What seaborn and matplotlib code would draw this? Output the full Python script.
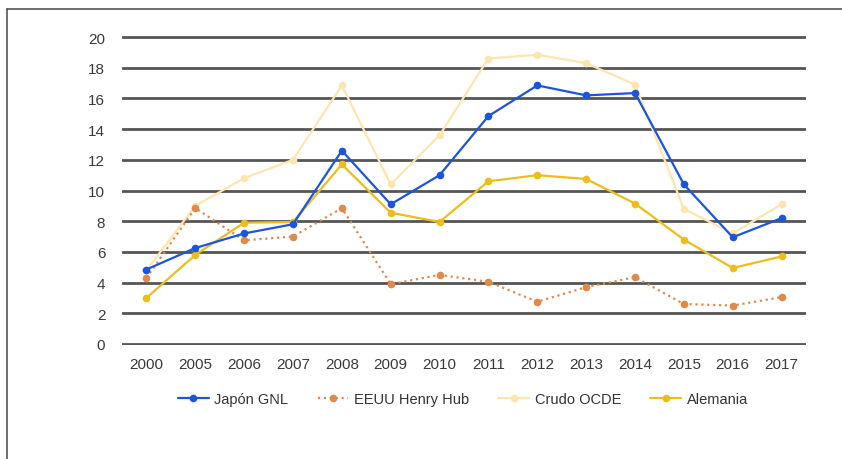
import matplotlib
matplotlib.use("Agg")
import matplotlib.pyplot as plt
from matplotlib.lines import Line2D
import seaborn as sns
import pandas as pd

years = ["2000", "2005", "2006", "2007", "2008", "2009", "2010",
         "2011", "2012", "2013", "2014", "2015", "2016", "2017"]
japon_gnl = [4.85, 6.25, 7.2, 7.8, 12.6, 9.1, 11.0, 14.85, 16.85, 16.2, 16.35, 10.4, 6.95, 8.2]
eeuu_henry_hub = [4.3, 8.85, 6.75, 7.0, 8.85, 3.9, 4.5, 4.05, 2.75, 3.7, 4.35, 2.6, 2.5, 3.05]
crudo_ocde = [4.8, 9.0, 10.8, 12.0, 16.85, 10.4, 13.6, 18.6, 18.85, 18.3, 16.9, 8.8, 7.2, 9.1]
alemania = [3.0, 5.8, 7.9, 7.95, 11.7, 8.55, 7.95, 10.6, 11.0, 10.75, 9.15, 6.8, 4.95, 5.7]

series_names = ["Japón GNL", "EEUU Henry Hub", "Crudo OCDE", "Alemania"]
colors = {"Japón GNL": "#1a55dc", "EEUU Henry Hub": "#e08a4a",
          "Crudo OCDE": "#fbe6b0", "Alemania": "#edbd1c"}

df = pd.DataFrame({"year": years, "Japón GNL": japon_gnl,
                   "EEUU Henry Hub": eeuu_henry_hub,
                   "Crudo OCDE": crudo_ocde, "Alemania": alemania})
long = df.melt(id_vars="year", var_name="serie", value_name="valor")

sns.set_style("white")
plt.rcParams["font.family"] = ["Liberation Sans", "DejaVu Sans"]

fig = plt.figure(figsize=(8.42, 4.6), dpi=100)
ax = fig.add_axes([122 / 842, 1 - 346 / 460, (806 - 122) / 842, (346 - 37) / 460])

# pale crude first so the others sit on top
order = ["Crudo OCDE", "EEUU Henry Hub", "Alemania", "Japón GNL"]
for name in order:
    sub = long[long["serie"] == name]
    sns.lineplot(data=sub, x="year", y="valor", ax=ax, color=colors[name],
                 linewidth=1.6, marker="o", markersize=5.5, markeredgewidth=0,
                 linestyle=":" if name == "EEUU Henry Hub" else "-",
                 sort=False, legend=False, zorder=3)

ax.set_xlim(-0.5, len(years) - 0.5)
ax.set_ylim(-0.07, 20.07)
ax.set_yticks(range(0, 21, 2))
ax.yaxis.grid(True, color="#555555", linewidth=2)
ax.xaxis.grid(False)
ax.set_axisbelow(True)
for s in ax.spines.values():
    s.set_visible(False)
ax.tick_params(axis="both", length=0, labelsize=11, colors="#3a3a3a")
ax.tick_params(axis="y", pad=12)
ax.tick_params(axis="x", pad=9)
ax.set_xlabel("")
ax.set_ylabel("")

handles = []
for name in series_names:
    handles.append(Line2D([0], [0], color=colors[name], linewidth=1.6,
                          linestyle=":" if name == "EEUU Henry Hub" else "-",
                          marker="o", markersize=5.5, markeredgewidth=0))
fig.legend(handles, series_names, loc="center", bbox_to_anchor=(463 / 842, 1 - 400 / 460),
           ncol=4, frameon=False, fontsize=10.5, handlelength=2.1, columnspacing=2.0,
           handletextpad=0.4, labelcolor="#333333")

# outer frame (top and left edges visible in the source)
fig.add_artist(Line2D([7 / 842, 7 / 842], [0, 1 - 10 / 460], color="#555555", linewidth=1.2))
fig.add_artist(Line2D([7 / 842, 1], [1 - 10 / 460, 1 - 10 / 460], color="#555555", linewidth=1.2))

fig.savefig("out.png", dpi=100)
plt.close(fig)
